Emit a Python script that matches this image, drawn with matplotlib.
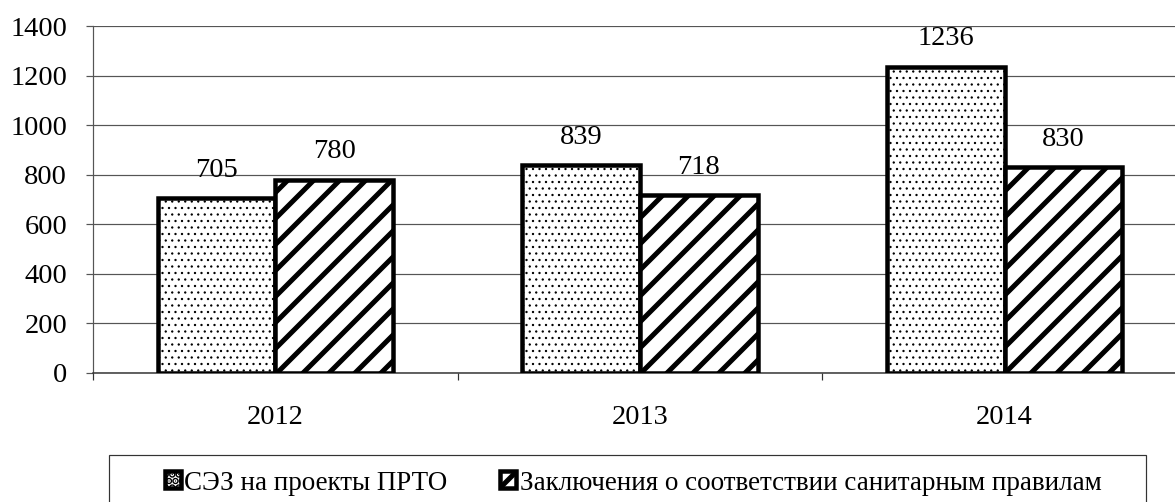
import matplotlib
matplotlib.use("Agg")
import matplotlib.pyplot as plt
import numpy as np
from matplotlib.patches import Rectangle

years = ["2012", "2013", "2014"]
sez_prto = [705, 839, 1236]
zakl_sanpravila = [780, 718, 830]
series_names = ["СЭЗ на проекты ПРТО", "Заключения о соответствии санитарным правилам"]
y_ticks = [0, 200, 400, 600, 800, 1000, 1200, 1400]

plt.rcParams["font.family"] = ["Liberation Serif", "DejaVu Serif"]

DPI = 78
W, H = 1175, 502


def pt(px):
    # pixel size -> points at this dpi
    return px * 72 / DPI


fig = plt.figure(figsize=(W / DPI, H / DPI), dpi=DPI)
# axes right edge falls a little beyond the picture, as in the original
ax = fig.add_axes([93 / W, 129 / H, (1187 - 93) / W, 347 / H])

x = np.arange(len(years))
bw = 0.323
FS = pt(28.5)

plt.rcParams["hatch.linewidth"] = pt(1.0)
b1 = ax.bar(x - bw / 2, sez_prto, bw, color="white", edgecolor="black",
            hatch="..", linewidth=pt(4.5), zorder=3, label=series_names[0])
plt.rcParams["hatch.linewidth"] = pt(5.0)
b2 = ax.bar(x + bw / 2, zakl_sanpravila, bw, color="white", edgecolor="black",
            hatch="/", linewidth=pt(4.5), zorder=3, label=series_names[1])
for p in b1:
    if hasattr(p, "set_hatch_linewidth"):
        p.set_hatch_linewidth(pt(1.0))
for p in b2:
    if hasattr(p, "set_hatch_linewidth"):
        p.set_hatch_linewidth(pt(5.0))

for bars, vals in ((b1, sez_prto), (b2, zakl_sanpravila)):
    for rect, v in zip(bars, vals):
        ax.annotate(str(v), (rect.get_x() + rect.get_width() / 2, v),
                    xytext=(0, pt(28)), textcoords="offset points",
                    ha="center", va="center", fontsize=FS, zorder=4)

ax.set_xlim(-0.5, len(years) - 0.5)
ax.set_ylim(0, 1400)
ax.set_yticks(y_ticks)
ax.set_yticklabels([str(t) for t in y_ticks], fontsize=FS)
ax.yaxis.grid(True, color="#555555", linewidth=pt(1.2), zorder=0)

ax.set_xticks(np.arange(len(years) + 1) - 0.5)
ax.set_xticklabels([])
ax.set_xticks(x, minor=True)
ax.set_xticklabels(years, minor=True, fontsize=FS)
ax.tick_params(axis="x", which="major", length=pt(7), width=pt(1.2), color="#333333", direction="out")
ax.tick_params(axis="x", which="minor", length=0, pad=pt(32))
ax.tick_params(axis="y", length=pt(7), width=pt(1.2), color="#555555", pad=pt(19))

for s in ("top", "right"):
    ax.spines[s].set_visible(False)
ax.spines["left"].set_color("#555555")
ax.spines["left"].set_linewidth(pt(1.2))
ax.spines["bottom"].set_color("#333333")
ax.spines["bottom"].set_linewidth(pt(1.5))

# legend frame, running off the bottom of the picture
fig.patches.append(Rectangle((109 / W, -0.2), (1146 - 109) / W, 0.2 + 47 / H,
                             transform=fig.transFigure, fill=False,
                             edgecolor="#333333", linewidth=pt(1.2)))
leg = fig.legend(handles=[b1, b2], labels=series_names, ncol=2, frameon=False,
                 loc="center left", bbox_to_anchor=(151 / W, 1 - 483 / H),
                 fontsize=pt(27), handlelength=16 / 27, handleheight=16 / 27,
                 handletextpad=4 / 27, columnspacing=52 / 27, borderpad=0)

fig.savefig("out.png", dpi=DPI)
